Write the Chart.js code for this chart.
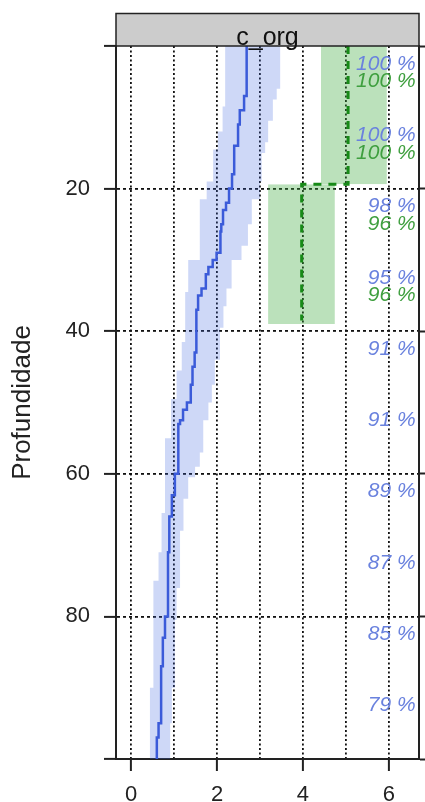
<!DOCTYPE html>
<html>
<head>
<meta charset="utf-8">
<script src="https://cdn.jsdelivr.net/npm/chart.js@4/dist/chart.umd.min.js"></script>
<style>
  body { margin: 0; background: #fff; }
  #box { width: 425px; height: 802px; }
</style>
</head>
<body>
<div id="box"><canvas id="perfil"></canvas></div>
<script>
// eixos
const depthTicks = [0, 20, 40, 60, 80, 100];
const xTicks = [0, 1, 2, 3, 4, 5, 6];

// mediana (profundidade inicial de cada degrau e valor)
const medianDepth = [0, 7, 9, 11, 14, 18, 20, 22, 23, 25, 26, 29, 30, 31, 32, 34, 35, 37, 43, 45, 47.5, 50, 51, 52.5, 53, 60, 63, 66, 71, 80, 83, 87, 95, 97];
const medianValue = [2.69, 2.63, 2.53, 2.49, 2.40, 2.35, 2.28, 2.21, 2.14, 2.10, 2.08, 1.99, 1.90, 1.80, 1.74, 1.64, 1.56, 1.52, 1.48, 1.43, 1.39, 1.30, 1.21, 1.14, 1.10, 1.02, 0.95, 0.89, 0.86, 0.79, 0.74, 0.70, 0.64, 0.60];

// faixa inferior / superior
const lowerDepth = [0, 8.5, 12, 14.5, 19, 21.5, 30, 34.5, 41.5, 45.5, 49.5, 55, 65.5, 71, 75, 90];
const lowerValue = [2.19, 2.13, 2.02, 1.91, 1.76, 1.60, 1.33, 1.26, 1.18, 1.06, 0.93, 0.79, 0.71, 0.64, 0.52, 0.44];
const upperDepth = [0, 6, 7.5, 10.5, 13.5, 15, 19, 21.5, 25, 28, 30, 34, 36.5, 39.5, 44, 47.5, 50, 52.5, 57, 59, 60.5, 63.5, 68, 76, 80.5, 90, 95];
const upperValue = [3.47, 3.39, 3.30, 3.19, 3.12, 3.04, 3.00, 2.81, 2.72, 2.57, 2.34, 2.22, 2.15, 2.07, 1.95, 1.88, 1.80, 1.68, 1.60, 1.49, 1.33, 1.22, 1.14, 1.06, 1.02, 0.95, 0.91];

// caixas verdes e linha tracejada
const boxTop = [0, 19.4];
const boxBottom = [19.4, 39];
const boxLeft = [4.42, 3.19];
const boxRight = [5.95, 4.74];
const dashDepth = [0, 19.4];
const dashValue = [5.05, 3.97];
const dashEnd = 38.5;

// percentuais
const bluePctDepth = [2.5, 12.5, 22.5, 32.5, 42.5, 52.5, 62.5, 72.5, 82.5, 92.5];
const bluePct = [100, 100, 98, 95, 91, 91, 89, 87, 85, 79];
const greenPctDepth = [5, 15, 25, 35];
const greenPct = [100, 100, 96, 96];

const stepPoints = (depths, values, end) => {
	const pts = [];
	depths.forEach((d, i) => {
		const next = i < depths.length - 1 ? depths[i + 1] : end;
		pts.push({ x: values[i], y: d }, { x: values[i], y: next });
	});
	return pts;
};

const edge = (x, i) => [{ x: x, y: boxTop[i] }, { x: x, y: boxBottom[i] }];

const font = "Liberation Sans, Arial, sans-serif";
const blueFill = "rgba(65,105,225,0.26)";
const greenFill = "rgba(60,170,60,0.35)";

// faixa do titulo e rotulos de %
const extras = {
	id: "extras",
	afterDraw(chart) {
		const { ctx, chartArea: a, scales } = chart;
		ctx.save();
		ctx.fillStyle = "#cccccc";
		ctx.fillRect(a.left, 13.5, a.right - a.left, a.top - 13.5);
		ctx.strokeStyle = "#222";
		ctx.lineWidth = 1.5;
		ctx.strokeRect(a.left, 13.5, a.right - a.left, a.top - 13.5);
		ctx.fillStyle = "#111";
		ctx.font = "25px " + font;
		ctx.textAlign = "center";
		ctx.textBaseline = "alphabetic";
		ctx.fillText("c_org", (a.left + a.right) / 2, 45);

		ctx.font = "italic 21px " + font;
		ctx.textAlign = "right";
		ctx.textBaseline = "middle";
		const px = scales.x.getPixelForValue(6.62);
		ctx.fillStyle = "#6a82de";
		bluePct.forEach((p, i) => ctx.fillText(p + " %", px, scales.y.getPixelForValue(bluePctDepth[i])));
		ctx.fillStyle = "#3f9f3f";
		greenPct.forEach((p, i) => ctx.fillText(p + " %", px, scales.y.getPixelForValue(greenPctDepth[i])));
		ctx.restore();
	},
};

const hidden = { borderWidth: 0, pointRadius: 0, fill: false };

const ctx = document.getElementById("perfil").getContext("2d");
new Chart(ctx, {
	type: "line",
	data: {
		datasets: [
			// 0-1: faixa azul
			{ ...hidden, data: stepPoints(lowerDepth, lowerValue, 100), fill: { target: 1 }, backgroundColor: blueFill, order: 6 },
			{ ...hidden, data: stepPoints(upperDepth, upperValue, 100), order: 6 },
			// 2-5: caixas verdes
			{ ...hidden, data: edge(boxLeft[0], 0), fill: { target: 3 }, backgroundColor: greenFill, order: 5 },
			{ ...hidden, data: edge(boxRight[0], 0), order: 5 },
			{ ...hidden, data: edge(boxLeft[1], 1), fill: { target: 5 }, backgroundColor: greenFill, order: 5 },
			{ ...hidden, data: edge(boxRight[1], 1), order: 5 },
			// 6: mediana
			{
				data: stepPoints(medianDepth, medianValue, 100),
				borderColor: "#3b5bd9",
				borderWidth: 2.5,
				pointRadius: 0,
				fill: false,
				order: 2,
			},
			// 7: tracejada
			{
				data: stepPoints(dashDepth, dashValue, dashEnd),
				borderColor: "#178a17",
				borderWidth: 3,
				borderDash: [8, 7],
				pointRadius: 0,
				fill: false,
				order: 1,
			},
		],
	},
	options: {
		indexAxis: "y",
		responsive: true,
		maintainAspectRatio: false,
		animation: false,
		layout: { padding: { top: 46, left: 0, right: 0, bottom: 0 } },
		plugins: { legend: { display: false }, tooltip: { enabled: false } },
		scales: {
			x: {
				type: "linear",
				min: -0.35,
				max: 6.7,
				afterBuildTicks: (s) => { s.ticks = xTicks.map((v) => ({ value: v })); },
				afterFit: (s) => { s.height = 43; },
				ticks: {
					callback: (v) => (v % 2 === 0 ? String(v) : ""),
					font: { family: font, size: 22 },
					color: "#222",
					padding: 11,
					maxRotation: 0,
				},
				grid: {
					color: "#111",
					lineWidth: 1.8,
					tickLength: 12,
					tickWidth: 2,
					tickBorderDash: [],
					tickColor: (c) => (c.tick && c.tick.value % 2 === 0 ? "#222" : "rgba(0,0,0,0)"),
				},
				border: { display: true, color: "#222", width: 2, dash: [2, 2.5] },
			},
			y: {
				type: "linear",
				reverse: true,
				min: 0,
				max: 100,
				afterBuildTicks: (s) => { s.ticks = depthTicks.map((v) => ({ value: v })); },
				afterFit: (s) => { s.width = 116; },
				ticks: {
					callback: (v) => (v === 0 || v === 100 ? "" : String(v)),
					font: { family: font, size: 22 },
					color: "#222",
					padding: 14,
				},
				title: {
					display: true,
					text: "Profundidade",
					font: { family: font, size: 26 },
					color: "#222",
					padding: { top: 7, bottom: 0 },
				},
				grid: {
					color: (c) => (c.tick && (c.tick.value === 0 || c.tick.value === 100) ? "rgba(0,0,0,0)" : "#111"),
					lineWidth: 1.8,
					tickLength: 12,
					tickWidth: 2,
					tickBorderDash: [],
					tickColor: "#222",
				},
				border: { display: true, color: "#222", width: 2, dash: [3, 3] },
			},
			y2: {
				type: "linear",
				position: "right",
				reverse: true,
				min: 0,
				max: 100,
				afterBuildTicks: (s) => { s.ticks = depthTicks.map((v) => ({ value: v })); },
				afterFit: (s) => { s.width = 6; },
				ticks: { display: false },
				grid: {
					drawOnChartArea: false,
					tickLength: 6,
					tickWidth: 2,
					tickBorderDash: [],
					tickColor: "#222",
				},
				border: { display: true, color: "#222", width: 2 },
			},
		},
	},
	plugins: [extras],
});
</script>
</body>
</html>
